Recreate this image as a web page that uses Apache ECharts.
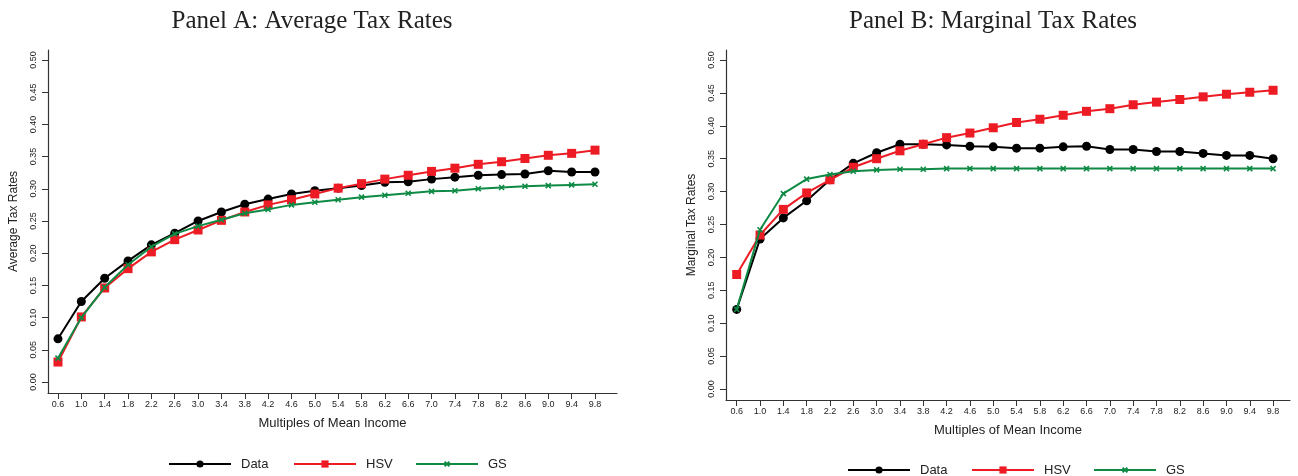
<!DOCTYPE html>
<html>
<head>
<meta charset="utf-8">
<script src="https://cdn.jsdelivr.net/npm/echarts@6/dist/echarts.min.js"></script>
<style>
html,body{margin:0;padding:0;background:#fff;}
#c{width:1298px;height:476px;}
</style>
</head>
<body>
<div id="c"></div>
<script>
const categories = [0.6,1.0,1.4,1.8,2.2,2.6,3.0,3.4,3.8,4.2,4.6,5.0,5.4,5.8,6.2,6.6,7.0,7.4,7.8,8.2,8.6,9.0,9.4,9.8];
const yTicks = [0,0.05,0.10,0.15,0.20,0.25,0.30,0.35,0.40,0.45,0.50];

const avgData = [0.067,0.125,0.161,0.188,0.213,0.231,0.250,0.264,0.276,0.284,0.292,0.297,0.301,0.305,0.310,0.311,0.315,0.318,0.321,0.322,0.323,0.328,0.326,0.326];
const avgHSV  = [0.031,0.101,0.146,0.176,0.202,0.221,0.236,0.251,0.264,0.275,0.283,0.292,0.301,0.308,0.315,0.321,0.327,0.332,0.338,0.342,0.347,0.352,0.355,0.360];
const avgGS   = [0.037,0.100,0.147,0.182,0.210,0.230,0.242,0.252,0.262,0.268,0.275,0.279,0.283,0.287,0.290,0.293,0.296,0.297,0.300,0.302,0.304,0.305,0.306,0.307];

const margData = [0.121,0.228,0.260,0.286,0.318,0.343,0.359,0.372,0.372,0.371,0.369,0.368,0.366,0.366,0.368,0.369,0.364,0.364,0.361,0.361,0.358,0.355,0.355,0.350];
const margHSV  = [0.174,0.234,0.273,0.298,0.318,0.337,0.350,0.362,0.372,0.382,0.389,0.397,0.405,0.410,0.416,0.422,0.426,0.432,0.436,0.440,0.444,0.448,0.451,0.454];
const margGS   = [0.121,0.242,0.297,0.319,0.326,0.331,0.333,0.334,0.334,0.335,0.335,0.335,0.335,0.335,0.335,0.335,0.335,0.335,0.335,0.335,0.335,0.335,0.335,0.335];

const seriesNames = ['Data','HSV','GS'];
const colors = {Data:'#000000', HSV:'#ed1c24', GS:'#0e8a44'};
const symbols = {Data:'circle', HSV:'rect', GS:'path://M0,0L10,10M10,0L0,10'};
const symSizes = {Data:9, HSV:9, GS:5};

const axisColor = '#333';
const labelColor = '#222';
const sans = 'Liberation Sans, Arial, sans-serif';

function pairs(vals){ return categories.map((c,i)=>[c, vals[i]]); }

function mkSeries(name, vals, idx){
  return {
    name: name, type:'line', xAxisIndex: idx, yAxisIndex: idx,
    data: pairs(vals),
    symbol: symbols[name], symbolSize: symSizes[name],
    showSymbol: true,
    lineStyle: {color: colors[name], width: 2},
    itemStyle: name==='GS'
      ? {color: colors[name], borderColor: colors[name], borderWidth: 1.6}
      : {color: colors[name], borderWidth: 0},
    animation: false,
    z: 2 + seriesNames.indexOf(name)
  };
}

function xAxis(idx, min, max){
  return {
    type:'value', gridIndex: idx, min:min, max:max,
    name:'Multiples of Mean Income', nameLocation:'middle', nameGap:24,
    nameTextStyle:{fontFamily:sans, fontSize:13, color:labelColor},
    axisLine:{show:true, onZero:false, lineStyle:{color:axisColor, width:1.2}},
    axisTick:{show:true, length:6, customValues: categories, lineStyle:{color:axisColor}},
    axisLabel:{customValues: categories, margin:7, fontFamily:sans, fontSize:9, color:labelColor,
      formatter: v => Number(v).toFixed(1)},
    splitLine:{show:false}
  };
}
function yAxis(idx, min, max, name){
  return {
    type:'value', gridIndex: idx, min:min, max:max,
    name: name, nameLocation:'middle', nameGap:28, nameRotate:90,
    nameTextStyle:{fontFamily:sans, fontSize:12, color:labelColor},
    axisLine:{show:true, onZero:false, lineStyle:{color:axisColor, width:1.2}},
    axisTick:{show:true, length:6, customValues: yTicks, lineStyle:{color:axisColor}},
    axisLabel:{customValues: yTicks, rotate:90, margin:10, fontFamily:sans, fontSize:9, color:labelColor,
      formatter: v => Number(v).toFixed(2)},
    splitLine:{show:false}
  };
}

const legendLefts = [[163,288,410],[842,966,1088]];
const legendTops = [451, 457];
const legends = [];
[0,1].forEach(p=>{
  seriesNames.forEach((n,k)=>{
    legends.push({
      data:[n], left: legendLefts[p][k], top: legendTops[p],
      itemWidth:62, itemHeight: n==='GS' ? 6 : 9, orient:'horizontal',
      textStyle:{fontFamily:sans, fontSize:13, lineHeight:16, color:labelColor, padding:[0,0,0,5]},
      selectedMode:false
    });
  });
});

const titleFont = 'Liberation Serif, Times New Roman, serif';
const option = {
  animation:false,
  backgroundColor:'#fff',
  title:[
    {text:'Panel A: Average Tax Rates', left:307, top:4, textAlign:'center',
     textStyle:{fontFamily:titleFont, fontWeight:'normal', fontSize:25, color:'#222'}},
    {text:'Panel B: Marginal Tax Rates', left:988, top:4, textAlign:'center',
     textStyle:{fontFamily:titleFont, fontWeight:'normal', fontSize:25, color:'#222'}}
  ],
  legend: legends,
  grid:[
    {left:48, top:50, width:569, height:343},
    {left:726, top:50, width:564, height:350}
  ],
  xAxis:[ xAxis(0, 0.429, 10.177), xAxis(1, 0.4165, 10.09) ],
  yAxis:[ yAxis(0, -0.0171, 0.5155, 'Average Tax Rates'), yAxis(1, -0.0167, 0.5152, 'Marginal Tax Rates') ],
  series:[
    mkSeries('Data', avgData, 0), mkSeries('HSV', avgHSV, 0), mkSeries('GS', avgGS, 0),
    mkSeries('Data', margData, 1), mkSeries('HSV', margHSV, 1), mkSeries('GS', margGS, 1)
  ]
};
const chart = echarts.init(document.getElementById('c'), null, {renderer:'canvas'});
chart.setOption(option);
</script>
</body>
</html>
